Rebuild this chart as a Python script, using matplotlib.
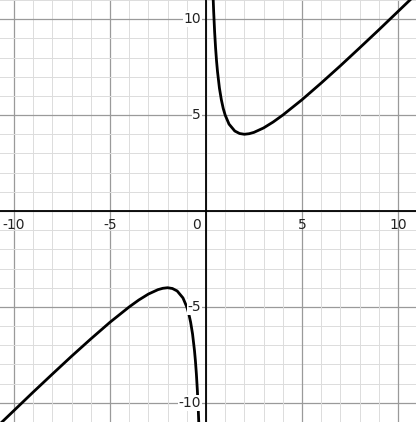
import matplotlib
matplotlib.use("Agg")
import matplotlib.pyplot as plt

# points (right branch); left branch is its mirror
xr = [0.37, 0.4, 0.45, 0.5, 0.55, 0.6, 0.7, 0.8, 0.9, 1.0, 1.2, 1.5, 1.75, 2.0, 2.25, 2.5, 3.0, 3.5, 4, 5, 6, 7, 8, 9, 10, 11]
yr = [11.18, 10.4, 9.34, 8.5, 7.82, 7.27, 6.41, 5.8, 5.34, 5.0, 4.53, 4.17, 4.04, 4.0, 4.03, 4.1, 4.33, 4.64, 5.0, 5.8, 6.67, 7.57, 8.5, 9.44, 10.4, 11.36]
xl = [-v for v in xr]
yl = [-v for v in yr]
xticks = [-10, -5, 5, 10]
yticks = [-10, -5, 5, 10]

fig = plt.figure(figsize=(4.16, 4.22), dpi=100)
ax = fig.add_axes([0, 0, 1, 1])
ax.set_xlim(-10.73, 10.94)
ax.set_ylim(-11.0, 11.0)
for v in range(-11, 12):
    major = v % 5 == 0
    c = "#9a9a9a" if major else "#dcdcdc"
    lw = 0.9 if major else 0.7
    ax.axvline(v, color=c, lw=lw, zorder=0)
    ax.axhline(v, color=c, lw=lw, zorder=0)
ax.axhline(0, color="black", lw=1.3, zorder=1)
ax.axvline(0, color="black", lw=1.3, zorder=1)
ax.plot(xr, yr, color="black", lw=2.0, zorder=3, solid_capstyle="round")
ax.plot(xl, yl, color="black", lw=2.0, zorder=3, solid_capstyle="round")
for t in xticks:
    ax.text(t, -0.35, str(t).replace("-", "−") if False else str(t), ha="center", va="top", fontsize=10, color="#222222")
for t in yticks:
    ax.text(-0.25, t, str(t), ha="right", va="center", fontsize=10, color="#222222",
            bbox=dict(facecolor="white", edgecolor="none", pad=0.5))
ax.text(-0.25, -0.35, "0", ha="right", va="top", fontsize=10, color="#222222")
ax.set_axis_off()
fig.savefig("out.png", dpi=100)
